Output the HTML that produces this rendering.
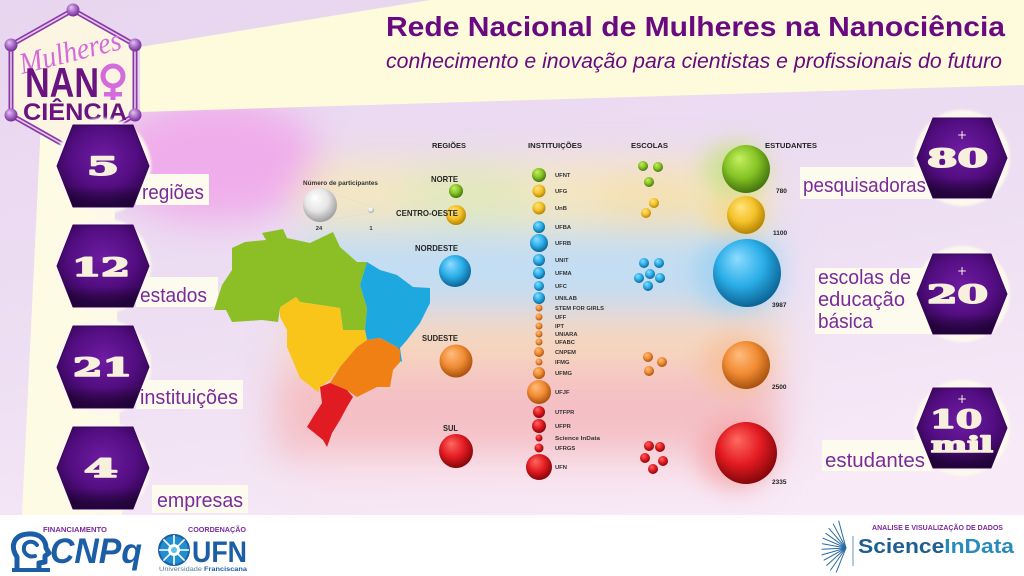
<!DOCTYPE html>
<html lang="pt">
<head>
<meta charset="utf-8">
<title>Rede Nacional de Mulheres na Nanociência</title>
<style>
  html,body{margin:0;padding:0;width:1024px;height:576px;overflow:hidden;background:#fff;}
  svg{display:block;}
  .lbl{font-family:"Liberation Sans",sans-serif;fill:#7a2a9c;font-size:20px;}
  .hd{font-family:"Liberation Sans",sans-serif;font-weight:bold;fill:#222;font-size:7px;}
  .rg{font-family:"Liberation Sans",sans-serif;font-weight:bold;fill:#262626;font-size:8.5px;}
  .in{font-family:"Liberation Sans",sans-serif;font-weight:bold;fill:#333;font-size:5.8px;}
  .num{font-family:"DejaVu Serif","Liberation Serif",serif;font-weight:bold;fill:#f6f0dc;stroke:#f6f0dc;stroke-width:1.6;stroke-linejoin:round;}
  .pl{font-family:"DejaVu Sans",sans-serif;fill:#f6f0dc;}
  .st{font-family:"Liberation Sans",sans-serif;font-weight:bold;fill:#222;font-size:6.5px;}
</style>
</head>
<body>
<svg width="1024" height="576" viewBox="0 0 1024 576" xmlns="http://www.w3.org/2000/svg">
<defs>
  <linearGradient id="bg" x1="0" y1="0" x2="0.3" y2="1">
    <stop offset="0" stop-color="#e8d5ef"/>
    <stop offset="0.6" stop-color="#eedff3"/>
    <stop offset="1" stop-color="#f8eaf7"/>
  </linearGradient>
  <filter id="blur" x="-30%" y="-30%" width="160%" height="160%"><feGaussianBlur stdDeviation="18"/></filter>
  <filter id="blur2" x="-30%" y="-30%" width="160%" height="160%"><feGaussianBlur stdDeviation="10"/></filter>
  <filter id="soft" x="-20%" y="-20%" width="140%" height="140%"><feGaussianBlur stdDeviation="1.3"/></filter>
  <radialGradient id="hx" cx="0.5" cy="0.4" r="0.62">
    <stop offset="0" stop-color="#6e1ca2"/>
    <stop offset="0.6" stop-color="#520d80"/>
    <stop offset="1" stop-color="#2a0446"/>
  </radialGradient>
  <linearGradient id="hxs" x1="0" y1="0" x2="0" y2="1">
    <stop offset="0" stop-color="#000" stop-opacity="0"/>
    <stop offset="0.75" stop-color="#000" stop-opacity="0"/>
    <stop offset="1" stop-color="#1a0230" stop-opacity="0.55"/>
  </linearGradient>
  <radialGradient id="gG" cx="0.45" cy="0.4" r="0.62" fx="0.35" fy="0.28"><stop offset="0" stop-color="#c4f060"/><stop offset="0.55" stop-color="#86c325"/><stop offset="1" stop-color="#3f6f0c"/></radialGradient>
  <radialGradient id="gY" cx="0.45" cy="0.4" r="0.62" fx="0.35" fy="0.28"><stop offset="0" stop-color="#ffe580"/><stop offset="0.55" stop-color="#f5c22a"/><stop offset="1" stop-color="#b07f00"/></radialGradient>
  <radialGradient id="gB" cx="0.45" cy="0.4" r="0.62" fx="0.35" fy="0.28"><stop offset="0" stop-color="#8fdcff"/><stop offset="0.55" stop-color="#2aaee8"/><stop offset="1" stop-color="#0a5f90"/></radialGradient>
  <radialGradient id="gO" cx="0.45" cy="0.4" r="0.62" fx="0.35" fy="0.28"><stop offset="0" stop-color="#ffbd80"/><stop offset="0.55" stop-color="#f18c34"/><stop offset="1" stop-color="#a44e0c"/></radialGradient>
  <radialGradient id="gR" cx="0.45" cy="0.4" r="0.62" fx="0.35" fy="0.28"><stop offset="0" stop-color="#ff6a60"/><stop offset="0.55" stop-color="#e31b22"/><stop offset="1" stop-color="#7e0508"/></radialGradient>
  <radialGradient id="gW" cx="0.45" cy="0.4" r="0.62" fx="0.35" fy="0.28"><stop offset="0" stop-color="#ffffff"/><stop offset="0.55" stop-color="#e6e6e6"/><stop offset="1" stop-color="#9a9a9a"/></radialGradient>
  <radialGradient id="gP" cx="0.45" cy="0.4" r="0.62" fx="0.35" fy="0.3"><stop offset="0" stop-color="#e6c4f0"/><stop offset="0.6" stop-color="#a060c0"/><stop offset="1" stop-color="#6a2a8a"/></radialGradient>
</defs>

<!-- background -->
<rect x="0" y="0" width="1024" height="576" fill="url(#bg)"/>

<!-- haze -->
<g filter="url(#blur)">
  <ellipse cx="215" cy="160" rx="105" ry="62" fill="#f0a6ea" opacity="0.85"/>
  <rect x="300" y="162" width="470" height="70" rx="30" fill="#f3e6c2"/>
  <ellipse cx="470" cy="195" rx="70" ry="30" fill="#e2e8bc"/>
  <ellipse cx="650" cy="200" rx="60" ry="28" fill="#f5e0b0"/>
  <rect x="300" y="230" width="480" height="82" fill="#c2ddf3"/>
  <rect x="290" y="312" width="490" height="60" fill="#f6d6be"/>
  <rect x="275" y="370" width="505" height="88" fill="#f4c0c5"/>
  <rect x="300" y="455" width="470" height="40" fill="#f8e2ee"/>
</g>
<g filter="url(#blur2)" opacity="0.8">
  <ellipse cx="735" cy="170" rx="32" ry="28" fill="#c8e08a"/>
  <ellipse cx="735" cy="215" rx="30" ry="22" fill="#f4d890"/>
  <ellipse cx="735" cy="273" rx="40" ry="38" fill="#9fd0f0"/>
  <ellipse cx="735" cy="365" rx="32" ry="30" fill="#f6c09a"/>
  <ellipse cx="735" cy="453" rx="38" ry="36" fill="#f4a8aa"/>
</g>

<!-- top cream banner -->
<polygon points="140,47 430,0 1024,0 1024,85 140,112" fill="#fdfbdc"/>
<!-- left cream strip -->
<polygon points="42,100 112,100 122,515 22,515" fill="#fdfbe4"/>

<!-- bottom white strip -->
<rect x="0" y="515" width="1024" height="61" fill="#ffffff"/>

<!-- logo -->
<g>
  <polygon points="73,10 135,45 135,115 73,150 11,115 11,45" fill="#fcf5e2"/>
  <polygon points="73,10 135,45 135,115 73,150 11,115 11,45" fill="none" stroke="#8a3aa8" stroke-width="5" stroke-linejoin="round"/>
  <polygon points="73,10 135,45 135,115 73,150 11,115 11,45" fill="none" stroke="#e6c6ee" stroke-width="1.6" stroke-linejoin="round"/>
  <circle cx="73" cy="10" r="6.5" fill="url(#gP)"/>
  <circle cx="135" cy="45" r="6.5" fill="url(#gP)"/>
  <circle cx="135" cy="115" r="6.5" fill="url(#gP)"/>
  <circle cx="11" cy="115" r="6.5" fill="url(#gP)"/>
  <circle cx="11" cy="45" r="6.5" fill="url(#gP)"/>
  <text x="22" y="74" transform="rotate(-14 22 74)" font-family="Liberation Serif, serif" font-style="italic" font-size="30" fill="#d46bdc" textLength="104" lengthAdjust="spacingAndGlyphs">Mulheres</text>
  <text x="25" y="97" font-family="Liberation Sans, sans-serif" font-weight="bold" font-size="42" fill="#6a1480" textLength="74" lengthAdjust="spacingAndGlyphs">NAN</text>
  <circle cx="113" cy="76" r="10" fill="none" stroke="#d46bdc" stroke-width="5"/>
  <rect x="110.5" y="86" width="5" height="14" fill="#d46bdc"/>
  <rect x="104" y="92" width="18" height="4.5" fill="#d46bdc"/>
  <text x="23" y="120" font-family="Liberation Sans, sans-serif" font-weight="bold" font-size="24" fill="#6a1480" textLength="104" lengthAdjust="spacingAndGlyphs">CIÊNCIA</text>
</g>

<!-- title -->
<text x="386" y="36" font-family="Liberation Sans, sans-serif" font-weight="bold" font-size="28" fill="#6a0a80" textLength="619" lengthAdjust="spacingAndGlyphs">Rede Nacional de Mulheres na Nanociência</text>
<text x="386" y="68" font-family="Liberation Sans, sans-serif" font-style="italic" font-size="21" fill="#6a0a80" textLength="616" lengthAdjust="spacingAndGlyphs">conhecimento e inovação para cientistas e profissionais do futuro</text>

<!-- left white circles -->
<g fill="#fcf8ee" filter="url(#soft)">
  <circle cx="103" cy="166" r="48"/>
  <circle cx="103" cy="266" r="48"/>
  <circle cx="103" cy="367" r="48"/>
  <circle cx="103" cy="468" r="47"/>
</g>
<!-- left label boxes -->
<g fill="#fdfbee">
  <rect x="136" y="174" width="73" height="31"/>
  <rect x="136" y="277" width="82" height="30"/>
  <rect x="136" y="380" width="107" height="29"/>
  <rect x="152" y="485" width="96" height="28"/>
</g>
<text class="lbl" x="142" y="199" textLength="62" lengthAdjust="spacingAndGlyphs">regiões</text>
<text class="lbl" x="140" y="302" textLength="67" lengthAdjust="spacingAndGlyphs">estados</text>
<text class="lbl" x="140" y="404" textLength="98" lengthAdjust="spacingAndGlyphs">instituições</text>
<text class="lbl" x="157" y="507" textLength="86" lengthAdjust="spacingAndGlyphs">empresas</text>
<!-- left hexes -->
<g stroke="#3a0660" stroke-width="1" stroke-linejoin="round">
  <polygon fill="url(#hx)" points="57,166 73,125 133,125 149,166 133,207 73,207"/>
  <polygon fill="url(#hx)" points="57,266 73,225 133,225 149,266 133,307 73,307"/>
  <polygon fill="url(#hx)" points="57,367 73,326 133,326 149,367 133,408 73,408"/>
  <polygon fill="url(#hx)" points="57,468 73,427 133,427 149,468 133,509 73,509"/>
</g>
<g stroke="none">
  <polygon fill="url(#hxs)" points="57,166 73,125 133,125 149,166 133,207 73,207"/>
  <polygon fill="url(#hxs)" points="57,266 73,225 133,225 149,266 133,307 73,307"/>
  <polygon fill="url(#hxs)" points="57,367 73,326 133,326 149,367 133,408 73,408"/>
  <polygon fill="url(#hxs)" points="57,468 73,427 133,427 149,468 133,509 73,509"/>
</g>
<text class="num" x="87" y="175" font-size="25" textLength="32" lengthAdjust="spacingAndGlyphs">5</text>
<text class="num" x="72" y="276" font-size="25" textLength="58" lengthAdjust="spacingAndGlyphs">12</text>
<text class="num" x="73" y="376" font-size="25" textLength="59" lengthAdjust="spacingAndGlyphs">21</text>
<text class="num" x="84" y="477" font-size="25" textLength="34" lengthAdjust="spacingAndGlyphs">4</text>

<!-- right white circles -->
<g fill="#fcf8ee" filter="url(#soft)">
  <circle cx="962" cy="158" r="48"/>
  <circle cx="962" cy="294" r="48"/>
  <circle cx="962" cy="428" r="48"/>
</g>
<g fill="#fdfbee">
  <rect x="800" y="167" width="135" height="32"/>
  <rect x="815" y="268" width="120" height="66"/>
  <rect x="822" y="440" width="112" height="31"/>
</g>
<text class="lbl" x="803" y="192" textLength="123" lengthAdjust="spacingAndGlyphs">pesquisadoras</text>
<text class="lbl" x="818" y="284" textLength="93" lengthAdjust="spacingAndGlyphs">escolas de</text>
<text class="lbl" x="818" y="306" textLength="87" lengthAdjust="spacingAndGlyphs">educação</text>
<text class="lbl" x="818" y="328" textLength="55" lengthAdjust="spacingAndGlyphs">básica</text>
<text class="lbl" x="825" y="467" textLength="100" lengthAdjust="spacingAndGlyphs">estudantes</text>
<g stroke="#3a0660" stroke-width="1" stroke-linejoin="round">
  <polygon fill="url(#hx)" points="917,158 933,118 991,118 1007,158 991,198 933,198"/>
  <polygon fill="url(#hx)" points="917,294 933,254 991,254 1007,294 991,334 933,334"/>
  <polygon fill="url(#hx)" points="917,428 933,388 991,388 1007,428 991,468 933,468"/>
</g>
<g stroke="none">
  <polygon fill="url(#hxs)" points="917,158 933,118 991,118 1007,158 991,198 933,198"/>
  <polygon fill="url(#hxs)" points="917,294 933,254 991,254 1007,294 991,334 933,334"/>
  <polygon fill="url(#hxs)" points="917,428 933,388 991,388 1007,428 991,468 933,468"/>
</g>
<text class="pl" x="962" y="139" font-size="12" text-anchor="middle">+</text>
<text class="num" x="927" y="167" font-size="25" textLength="61" lengthAdjust="spacingAndGlyphs">80</text>
<text class="pl" x="962" y="275" font-size="12" text-anchor="middle">+</text>
<text class="num" x="927" y="303" font-size="25" textLength="61" lengthAdjust="spacingAndGlyphs">20</text>
<text class="pl" x="962" y="403" font-size="12" text-anchor="middle">+</text>
<text class="num" x="930" y="428" font-size="25" textLength="52" lengthAdjust="spacingAndGlyphs">10</text>
<text class="num" x="931" y="452" font-size="21" textLength="62" lengthAdjust="spacingAndGlyphs">mil</text>

<!-- map -->
<g stroke="none">
  <polygon fill="#8cbf26" points="262,233 283,229 287,238 310,243 333,232 340,247 357,262 367,262 360,285 367,308 365,330 343,330 340,308 300,302 296,297 280,308 278,322 262,320 232,322 226,310 214,310 222,285 232,270 232,248 245,242 266,240"/>
  <polygon fill="#1ea8e0" points="367,262 380,270 397,275 413,287 430,288 430,303 420,323 407,340 400,348 402,362 397,360 397,347 380,338 367,340 365,330 367,308 360,285"/>
  <polygon fill="#f9c51a" points="280,307 296,297 300,302 340,308 343,330 365,330 367,340 357,347 340,367 330,380 320,387 318,392 300,378 287,347 287,330 280,317"/>
  <polygon fill="#f08014" points="367,340 380,338 397,347 400,350 400,362 393,370 390,387 377,387 357,397 347,390 330,383 340,367 357,347"/>
  <polygon fill="#e01b22" points="320,387 330,383 347,390 353,397 347,407 340,420 332,433 327,447 323,440 307,427 313,417 322,403"/>
</g>

<!-- legend -->
<text x="303" y="185" font-family="Liberation Sans, sans-serif" font-weight="bold" font-size="6" fill="#333" textLength="75" lengthAdjust="spacingAndGlyphs">Número de participantes</text>
<line x1="322" y1="189" x2="371" y2="207" stroke="#e0d8d8" stroke-width="0.5"/>
<line x1="322" y1="221" x2="371" y2="213" stroke="#e0d8d8" stroke-width="0.5"/>
<circle cx="320" cy="205" r="17" fill="url(#gW)"/>
<circle cx="371" cy="210" r="3" fill="url(#gW)"/>
<text x="319" y="230" class="in" text-anchor="middle">24</text>
<text x="371" y="230" class="in" text-anchor="middle">1</text>

<!-- column headers -->
<text class="hd" x="432" y="148" textLength="34" lengthAdjust="spacingAndGlyphs">REGIÕES</text>
<text class="hd" x="528" y="148" textLength="54" lengthAdjust="spacingAndGlyphs">INSTITUIÇÕES</text>
<text class="hd" x="631" y="148" textLength="37" lengthAdjust="spacingAndGlyphs">ESCOLAS</text>
<text class="hd" x="765" y="148" textLength="52" lengthAdjust="spacingAndGlyphs">ESTUDANTES</text>

<!-- regions -->
<circle cx="456" cy="191" r="7" fill="url(#gG)"/>
<circle cx="456" cy="215" r="10" fill="url(#gY)"/>
<circle cx="455" cy="271" r="16" fill="url(#gB)"/>
<circle cx="456" cy="361" r="16.5" fill="url(#gO)"/>
<circle cx="456" cy="451" r="17" fill="url(#gR)"/>
<text class="rg" x="431" y="182" textLength="27" lengthAdjust="spacingAndGlyphs">NORTE</text>
<text class="rg" x="396" y="216" textLength="62" lengthAdjust="spacingAndGlyphs">CENTRO-OESTE</text>
<text class="rg" x="415" y="251" textLength="43" lengthAdjust="spacingAndGlyphs">NORDESTE</text>
<text class="rg" x="422" y="341" textLength="36" lengthAdjust="spacingAndGlyphs">SUDESTE</text>
<text class="rg" x="443" y="431" textLength="15" lengthAdjust="spacingAndGlyphs">SUL</text>

<!-- institutions -->
<g>
  <circle cx="539" cy="175" r="7" fill="url(#gG)"/>
  <circle cx="539" cy="191" r="6.5" fill="url(#gY)"/>
  <circle cx="539" cy="208" r="6.5" fill="url(#gY)"/>
  <circle cx="539" cy="227" r="6" fill="url(#gB)"/>
  <circle cx="539" cy="243" r="9" fill="url(#gB)"/>
  <circle cx="539" cy="260" r="6" fill="url(#gB)"/>
  <circle cx="539" cy="273" r="6" fill="url(#gB)"/>
  <circle cx="539" cy="286" r="5" fill="url(#gB)"/>
  <circle cx="539" cy="298" r="6" fill="url(#gB)"/>
  <circle cx="539" cy="308" r="3.5" fill="url(#gO)"/>
  <circle cx="539" cy="317" r="3.5" fill="url(#gO)"/>
  <circle cx="539" cy="326" r="3.5" fill="url(#gO)"/>
  <circle cx="539" cy="334" r="3.5" fill="url(#gO)"/>
  <circle cx="539" cy="342" r="3.5" fill="url(#gO)"/>
  <circle cx="539" cy="352" r="5" fill="url(#gO)"/>
  <circle cx="539" cy="362" r="3.5" fill="url(#gO)"/>
  <circle cx="539" cy="373" r="6" fill="url(#gO)"/>
  <circle cx="539" cy="392" r="12" fill="url(#gO)"/>
  <circle cx="539" cy="412" r="6" fill="url(#gR)"/>
  <circle cx="539" cy="426" r="7" fill="url(#gR)"/>
  <circle cx="539" cy="438" r="3.5" fill="url(#gR)"/>
  <circle cx="539" cy="448" r="4.5" fill="url(#gR)"/>
  <circle cx="539" cy="467" r="13" fill="url(#gR)"/>
</g>
<g>
  <text class="in" x="555" y="177">UFNT</text>
  <text class="in" x="555" y="193">UFG</text>
  <text class="in" x="555" y="210">UnB</text>
  <text class="in" x="555" y="229">UFBA</text>
  <text class="in" x="555" y="245">UFRB</text>
  <text class="in" x="555" y="262">UNIT</text>
  <text class="in" x="555" y="275">UFMA</text>
  <text class="in" x="555" y="288">UFC</text>
  <text class="in" x="555" y="300">UNILAB</text>
  <text class="in" x="555" y="310" textLength="49" lengthAdjust="spacingAndGlyphs">STEM FOR GIRLS</text>
  <text class="in" x="555" y="319">UFF</text>
  <text class="in" x="555" y="328">IPT</text>
  <text class="in" x="555" y="336">UNIARA</text>
  <text class="in" x="555" y="344">UFABC</text>
  <text class="in" x="555" y="354">CNPEM</text>
  <text class="in" x="555" y="364">IFMG</text>
  <text class="in" x="555" y="375">UFMG</text>
  <text class="in" x="555" y="394">UFJF</text>
  <text class="in" x="555" y="414">UTFPR</text>
  <text class="in" x="555" y="428">UFPR</text>
  <text class="in" x="555" y="440" textLength="45" lengthAdjust="spacingAndGlyphs">Science InData</text>
  <text class="in" x="555" y="450">UFRGS</text>
  <text class="in" x="555" y="469">UFN</text>
</g>

<!-- schools -->
<g>
  <circle cx="643" cy="166" r="5" fill="url(#gG)"/>
  <circle cx="658" cy="167" r="5" fill="url(#gG)"/>
  <circle cx="649" cy="182" r="5" fill="url(#gG)"/>
  <circle cx="654" cy="203" r="5" fill="url(#gY)"/>
  <circle cx="646" cy="213" r="5" fill="url(#gY)"/>
  <circle cx="644" cy="263" r="5" fill="url(#gB)"/>
  <circle cx="659" cy="263" r="5" fill="url(#gB)"/>
  <circle cx="650" cy="274" r="5" fill="url(#gB)"/>
  <circle cx="639" cy="278" r="5" fill="url(#gB)"/>
  <circle cx="660" cy="278" r="5" fill="url(#gB)"/>
  <circle cx="648" cy="286" r="5" fill="url(#gB)"/>
  <circle cx="648" cy="357" r="5" fill="url(#gO)"/>
  <circle cx="662" cy="362" r="5" fill="url(#gO)"/>
  <circle cx="649" cy="371" r="5" fill="url(#gO)"/>
  <circle cx="649" cy="446" r="5" fill="url(#gR)"/>
  <circle cx="660" cy="447" r="5" fill="url(#gR)"/>
  <circle cx="645" cy="458" r="5" fill="url(#gR)"/>
  <circle cx="663" cy="461" r="5" fill="url(#gR)"/>
  <circle cx="653" cy="469" r="5" fill="url(#gR)"/>
</g>

<!-- students -->
<circle cx="746" cy="169" r="24" fill="url(#gG)"/>
<circle cx="746" cy="215" r="19" fill="url(#gY)"/>
<circle cx="747" cy="273" r="34" fill="url(#gB)"/>
<circle cx="746" cy="365" r="24" fill="url(#gO)"/>
<circle cx="746" cy="453" r="31" fill="url(#gR)"/>
<text class="st" x="776" y="193">780</text>
<text class="st" x="773" y="235">1100</text>
<text class="st" x="772" y="307">3987</text>
<text class="st" x="772" y="389">2500</text>
<text class="st" x="772" y="484">2335</text>

<!-- bottom logos -->
<text x="43" y="532" font-family="Liberation Sans, sans-serif" font-weight="bold" font-size="7" fill="#7a2a9c" textLength="64" lengthAdjust="spacingAndGlyphs">FINANCIAMENTO</text>
<text x="188" y="532" font-family="Liberation Sans, sans-serif" font-weight="bold" font-size="7" fill="#7a2a9c" textLength="58" lengthAdjust="spacingAndGlyphs">COORDENAÇÃO</text>
<!-- CNPq icon -->
<g fill="none" stroke="#1b5ea6" stroke-linecap="round" stroke-linejoin="round">
  <path d="M17,569 L17,557 C10,547 13,535 28,534 C41,533 46,541 46,548 L49,553 L45,556 L45,562 L39,563 L39,569" stroke-width="5"/>
  <path d="M35,556 C28,558 23,553 24,547 C25,541 33,540 37,545" stroke-width="4"/>
</g>
<rect x="12" y="568" width="38" height="4" fill="#1b5ea6"/>
<text x="50" y="563" font-family="Liberation Sans, sans-serif" font-weight="bold" font-style="italic" font-size="35" fill="#1b5ea6" textLength="92" lengthAdjust="spacingAndGlyphs">CNPq</text>
<!-- UFN icon -->
<g>
  <circle cx="174" cy="550" r="15" fill="#1f8fd0"/>
  <circle cx="174" cy="550" r="15" fill="none" stroke="#1b5ea6" stroke-width="2"/>
  <g stroke="#ffffff" stroke-width="1.6">
    <line x1="174" y1="535" x2="174" y2="565"/>
    <line x1="159" y1="550" x2="189" y2="550"/>
    <line x1="163.4" y1="539.4" x2="184.6" y2="560.6"/>
    <line x1="184.6" y1="539.4" x2="163.4" y2="560.6"/>
  </g>
  <circle cx="174" cy="550" r="6" fill="#ffffff"/>
  <circle cx="174" cy="550" r="3" fill="#5cc0ee"/>
</g>
<text x="192" y="562" font-family="Liberation Sans, sans-serif" font-weight="bold" font-size="30" fill="#1b5ea6" textLength="55" lengthAdjust="spacingAndGlyphs">UFN</text>
<text x="159" y="571" font-family="Liberation Sans, sans-serif" font-size="6.5" fill="#5a7a9a" textLength="88" lengthAdjust="spacingAndGlyphs">Universidade <tspan font-weight="bold" fill="#1b5ea6">Franciscana</tspan></text>

<!-- ScienceInData -->
<text x="872" y="530" font-family="Liberation Sans, sans-serif" font-weight="bold" font-size="7" fill="#7a2a9c" textLength="131" lengthAdjust="spacingAndGlyphs">ANALISE E VISUALIZAÇÃO DE DADOS</text>
<g stroke="#2a6aa0" stroke-width="1" stroke-linecap="round">
  <line x1="846" y1="548" x2="838.7" y2="521"/>
  <line x1="846" y1="548" x2="833.3" y2="524.2"/>
  <line x1="846" y1="548" x2="828.9" y2="528.4"/>
  <line x1="846" y1="548" x2="825.8" y2="533.3"/>
  <line x1="846" y1="548" x2="823" y2="538.2"/>
  <line x1="846" y1="548" x2="822.4" y2="543.8"/>
  <line x1="846" y1="548" x2="822" y2="549.3"/>
  <line x1="846" y1="548" x2="822" y2="554.9"/>
  <line x1="846" y1="548" x2="824.1" y2="560.1"/>
  <line x1="846" y1="548" x2="826.7" y2="565.4"/>
  <line x1="846" y1="548" x2="830.5" y2="570.1"/>
  <line x1="846" y1="548" x2="836.3" y2="572.1"/>
</g>
<line x1="853" y1="536" x2="853" y2="566" stroke="#9ab8cc" stroke-width="1.5"/>
<text x="858" y="553" font-family="Liberation Sans, sans-serif" font-weight="bold" font-size="20" textLength="156" lengthAdjust="spacingAndGlyphs"><tspan fill="#1f5f8f">Science</tspan><tspan fill="#2a8bbd">InData</tspan></text>
</svg>
</body>
</html>
